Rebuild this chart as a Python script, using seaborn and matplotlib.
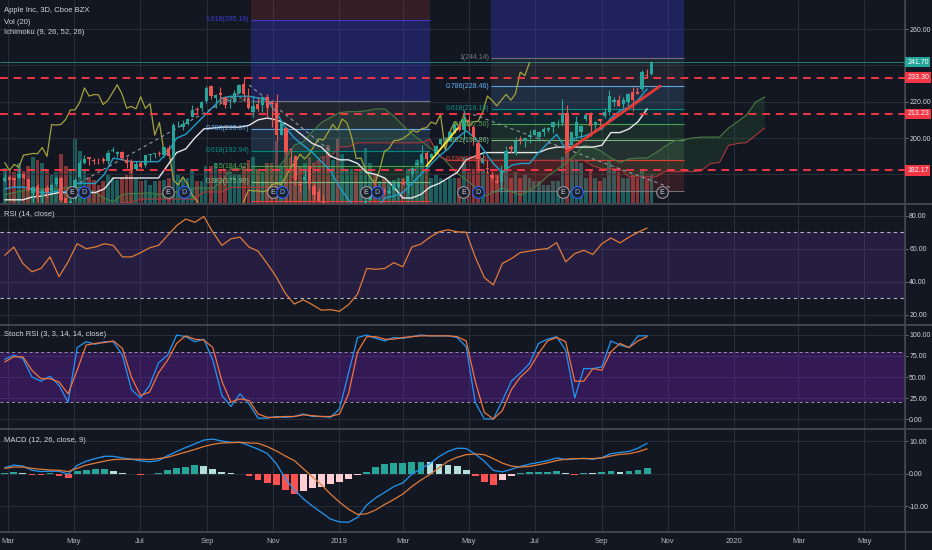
import numpy as np
import pandas as pd
import seaborn as sns
import matplotlib.pyplot as plt
import matplotlib.dates as mdates
import matplotlib.transforms as mtransforms
from matplotlib.lines import Line2D
from matplotlib.ticker import FuncFormatter

# --- 3D price bars (Apple Inc, Cboe BZX) ---
opens = [176.4, 178.5, 177.9, 177.9, 180.3, 177.3, 170.0, 173.7, 167.9, 172.6,
         171.0, 174.9, 177.8, 166.8, 164.1, 166.4, 178.3, 186.5, 189.4, 188.0,
         188.4, 188.2, 187.2, 193.1, 191.2, 192.4, 187.9, 187.3, 183.0, 186.3,
         185.3, 190.7, 191.1, 191.8, 190.7, 194.6, 190.3, 207.0, 206.0, 207.7,
         211.8, 216.0, 216.6, 220.2, 228.4, 221.9, 224.9, 222.0, 220.2, 219.8,
         224.8, 230.0, 222.2, 214.5, 218.9, 218.0, 222.6, 219.2, 219.1, 201.9,
         205.6, 193.9, 190.0, 174.9, 176.7, 184.5, 173.5, 170.4, 165.5, 160.4,
         148.3, 158.5, 144.5, 151.3, 150.9, 154.2, 154.2, 155.8, 166.1, 172.9,
         169.0, 171.4, 169.7, 171.6, 173.2, 175.7, 173.9, 180.0, 184.9, 186.2,
         191.5, 188.9, 191.1, 196.5, 198.7, 198.6, 203.1, 207.4, 204.4, 209.8,
         205.9, 197.4, 186.3, 183.5, 179.8, 176.4, 175.6, 183.1, 194.9, 191.6,
         199.7, 198.4, 200.3, 201.4, 200.8, 203.3, 204.6, 205.8, 207.7, 208.5,
         213.9, 196.3, 201.3, 203.2, 210.6, 213.2, 207.9, 210.2, 212.0, 214.3,
         220.0, 221.1, 218.9, 220.0, 225.1, 225.6, 227.0, 234.9, 235.1]
highs = [180.6, 179.8, 178.2, 183.5, 180.5, 177.5, 173.0, 175.1, 172.0, 174.2,
         175.0, 178.8, 178.8, 166.9, 166.0, 177.8, 187.7, 190.4, 189.5, 189.0,
         188.9, 189.6, 193.4, 195.3, 192.9, 192.6, 189.6, 188.5, 187.3, 187.3,
         190.7, 191.4, 191.9, 192.6, 194.9, 196.0, 208.4, 209.5, 209.8, 211.0,
         218.0, 217.2, 220.5, 228.9, 229.2, 224.3, 228.3, 222.9, 222.3, 226.4,
         230.0, 233.5, 227.3, 222.9, 222.6, 223.3, 224.2, 220.7, 224.0, 210.1,
         206.0, 194.5, 190.7, 176.6, 182.8, 184.9, 174.5, 172.6, 168.4, 162.1,
         157.2, 159.4, 151.8, 154.5, 155.9, 157.9, 158.1, 166.2, 171.7, 175.6,
         171.2, 172.5, 173.3, 175.9, 175.5, 177.9, 179.1, 184.1, 188.4, 196.3,
         192.9, 191.7, 196.4, 200.2, 200.7, 203.4, 207.8, 208.5, 215.3, 212.7,
         207.4, 198.9, 192.5, 188.0, 182.1, 179.4, 185.0, 195.4, 196.0, 200.3,
         200.9, 200.2, 204.5, 205.1, 203.7, 205.9, 206.1, 208.9, 209.7, 221.4,
         218.0, 203.5, 212.1, 207.2, 213.4, 214.4, 209.5, 210.5, 216.4, 226.4,
         222.5, 223.8, 222.5, 224.6, 228.2, 228.1, 237.6, 238.0, 242.2]
lows = [176.0, 172.7, 173.7, 177.4, 177.6, 171.0, 164.5, 164.7, 162.5, 167.6,
        170.5, 173.6, 165.5, 161.6, 161.2, 166.4, 178.0, 185.5, 185.3, 185.6,
        185.7, 186.3, 185.8, 192.1, 189.7, 187.9, 183.5, 180.7, 182.4, 183.4,
        184.3, 187.5, 189.2, 189.9, 189.6, 189.6, 189.8, 205.8, 204.5, 207.1,
        211.8, 214.0, 215.0, 219.5, 221.4, 216.5, 219.2, 216.4, 216.4, 219.4,
        224.7, 220.6, 216.0, 211.5, 214.7, 214.2, 211.7, 206.1, 198.2, 201.5,
        191.3, 184.6, 174.1, 170.3, 176.2, 171.7, 165.9, 165.2, 160.1, 146.6,
        145.0, 142.0, 143.2, 149.6, 148.6, 152.7, 151.7, 153.0, 165.9, 170.4,
        168.4, 169.3, 169.7, 171.4, 172.7, 174.0, 169.5, 178.9, 184.9, 185.9,
        184.6, 187.8, 191.1, 196.2, 198.2, 198.6, 202.6, 203.6, 198.9, 204.0,
        196.2, 182.9, 185.7, 181.0, 176.7, 175.0, 170.3, 181.6, 191.9, 190.8,
        196.9, 195.3, 197.5, 201.4, 198.1, 201.0, 203.3, 202.5, 206.2, 206.7,
        192.6, 194.2, 199.5, 199.6, 209.3, 201.0, 203.5, 205.1, 211.1, 212.5,
        217.7, 217.4, 216.7, 217.3, 215.1, 224.0, 225.9, 233.1, 234.9]
closes = [178.1, 176.8, 176.9, 180.0, 178.0, 171.3, 172.8, 167.8, 171.6, 170.1,
          174.1, 178.2, 165.7, 163.7, 165.3, 176.9, 186.1, 188.6, 188.2, 187.6,
          188.2, 187.5, 191.8, 193.5, 192.3, 188.8, 186.5, 182.2, 185.5, 183.9,
          190.6, 191.0, 191.5, 191.4, 194.8, 189.9, 207.4, 207.1, 207.5, 210.2,
          215.5, 215.5, 219.7, 227.6, 223.1, 223.9, 223.8, 218.4, 220.8, 225.0,
          229.3, 224.3, 216.4, 217.4, 216.0, 222.7, 216.3, 218.9, 201.6, 208.5,
          192.2, 193.5, 176.8, 174.2, 178.6, 174.7, 168.6, 165.5, 160.9, 146.8,
          156.2, 142.2, 150.8, 152.3, 154.9, 153.3, 157.8, 165.3, 171.3, 170.9,
          170.9, 170.4, 171.1, 174.3, 175.0, 174.5, 178.9, 183.7, 186.5, 191.1,
          188.5, 191.2, 195.7, 199.5, 198.9, 203.1, 207.5, 204.3, 210.5, 208.5,
          200.7, 188.7, 189.0, 182.8, 178.2, 175.1, 182.5, 192.6, 194.2, 198.5,
          198.8, 199.8, 201.6, 204.2, 203.2, 205.2, 205.7, 208.8, 207.7, 213.0,
          193.3, 203.4, 209.0, 206.5, 212.6, 206.5, 209.0, 209.2, 214.2, 223.1,
          220.7, 217.7, 221.0, 224.0, 220.8, 224.4, 236.2, 234.4, 241.7]
volumes = [115, 110, 100, 130, 105, 120, 150, 140, 130, 110,
           95, 100, 160, 120, 110, 210, 170, 110, 85, 75,
           60, 70, 95, 85, 75, 85, 90, 110, 80, 70,
           75, 60, 70, 70, 75, 80, 180, 95, 80, 80,
           110, 70, 70, 120, 120, 130, 110, 110, 100, 95,
           90, 120, 140, 150, 110, 100, 130, 130, 200, 120,
           170, 150, 140, 120, 130, 150, 130, 140, 150, 190,
           140, 210, 160, 110, 110, 100, 110, 180, 130, 95,
           70, 80, 70, 75, 80, 80, 110, 110, 140, 150,
           110, 80, 90, 80, 70, 80, 80, 80, 150, 100,
           110, 160, 110, 100, 80, 90, 100, 130, 80, 100,
           80, 90, 80, 70, 70, 60, 60, 70, 70, 150,
           170, 140, 140, 130, 80, 110, 80, 70, 80, 140,
           110, 100, 80, 80, 90, 80, 110, 80, 90]

# --- indicators, sampled every second bar ---
rsi = [56, 61, 51, 46, 48, 55, 43, 52, 63, 60, 61, 63, 62, 55, 55, 57.5, 60.5, 62, 68, 74,
       78, 76, 79.5, 70, 62, 66, 67, 61, 58.5, 51, 43, 33, 26.4, 29, 26, 22.7, 23, 22, 26, 32.5,
       48, 47.5, 48, 51.5, 49, 61, 62.8, 67, 70.2, 71.5, 70.2, 70, 55, 42.5, 38, 51, 54, 57.7, 58.5, 59.5,
       60, 63.7, 52, 57, 59, 56.5, 63, 66.5, 63.5, 67, 70, 72.5]
stoch_k = [71, 76, 72, 50, 45, 51, 40, 20, 85, 92, 89, 92, 92, 76, 35, 25, 40, 67, 76, 100,
           98, 92, 95, 70, 28, 15, 30, 18, 1, 1, 3, 2, 3, 6, 3, 3, 2, 12, 55, 97,
           100, 96, 93, 97, 96, 98, 100, 99, 99, 99, 97, 86, 20, 0, 0, 22, 45, 55, 66, 90,
           95, 98, 82, 25, 60, 60, 62, 93, 88, 85, 99, 99]
stoch_d = [68, 74, 74, 58, 48, 48, 44, 30, 58, 88, 90, 91, 93, 84, 50, 28, 32, 55, 70, 90,
           99, 95, 94, 85, 45, 20, 24, 22, 6, 2, 2, 3, 3, 5, 4, 3, 3, 6, 30, 80,
           98, 98, 95, 95, 97, 98, 99, 99, 99, 99, 98, 93, 45, 8, 0, 10, 35, 50, 60, 78,
           93, 97, 92, 45, 45, 60, 58, 80, 90, 85, 93, 98]
macd = [1.8, 2.6, 2.3, 1.0, 0.6, 0.7, 0.7, -0.2, 2.5, 3.8, 4.6, 5.3, 5.3, 4.8, 4.4, 3.9, 3.6, 4.0, 5.5, 6.8,
        8.0, 9.1, 10.3, 10.6, 10.0, 9.6, 9.6, 8.6, 7.5, 6.2, 3.1, -1.5, -5.0, -7.8, -10.0, -12.0, -14.0, -14.9, -15.0, -13.5,
        -9.7, -7.5, -5.8, -4.0, -2.9, -0.2, 1.5, 3.1, 5.2, 6.8, 7.8, 7.7, 6.0, 3.8, 1.0, 0.5, 1.3, 2.2, 2.9, 3.4,
        4.0, 4.8, 4.3, 4.5, 4.7, 4.4, 4.9, 6.1, 6.5, 6.8, 7.8, 9.3]
signal = [1.6, 2.0, 2.0, 1.6, 1.3, 1.1, 1.0, 0.6, 1.6, 2.6, 3.2, 3.8, 4.3, 4.4, 4.4, 4.4, 4.3, 4.6, 5.0, 5.8,
          6.6, 7.4, 8.3, 9.0, 9.4, 9.5, 9.6, 9.4, 9.3, 8.3, 7.0, 5.4, 4.0, 1.5, -1.0, -3.5, -6.3, -8.8, -11.0, -12.6,
          -12.4, -11.2, -9.5, -8.0, -6.3, -4.0, -2.0, -0.3, 1.8, 3.8, 5.0, 5.8, 6.0, 5.8, 4.6, 3.2, 2.3, 2.0, 2.2, 2.7,
          3.3, 4.0, 4.4, 4.6, 4.6, 4.6, 4.8, 5.4, 5.9, 6.1, 6.7, 7.6]
hist = [0.3, 0.5, 0.2, -0.5, -0.6, 0.1, -0.8, -1.4, 0.8, 1.2, 1.5, 1.5, 0.9, 0.3, -0.2, -0.3, -0.2, 0.1, 1.0, 1.6,
        2.0, 2.6, 2.4, 1.4, 0.4, 0.1, -0.1, -0.8, -2.0, -2.8, -3.6, -5.0, -6.3, -5.5, -4.6, -4.0, -3.2, -2.5, -1.8, -0.6,
        0.4, 2.0, 2.8, 3.2, 3.2, 3.5, 3.5, 3.4, 3.0, 2.5, 2.2, 1.0, -0.8, -2.5, -3.5, -2.0, -0.8, 0.2, 0.4, 0.5,
        0.6, 0.7, 0.1, -0.3, 0.2, 0.1, 0.4, 0.7, 0.6, 0.8, 1.2, 1.6]
conversion = [172, 173, 173, 172, 170, 170, 171, 170, 175, 175, 175, 180, 189, 188, 187, 187, 187, 187, 192, 200,
              202, 207, 212, 217, 222, 223, 223, 223, 222, 221, 214, 206, 200, 196, 192, 187, 182, 173, 166, 160,
              155, 160, 167, 168, 170, 175, 180, 185, 190, 194, 200, 204, 200, 193, 186, 181, 185, 186, 186, 192,
              197, 202, 194, 200, 201, 203, 205, 211, 215, 217, 221, 227]
base = [166, 166, 166, 167.5, 168, 169, 170, 170, 170, 170, 170, 172, 178, 178, 178, 178, 178, 178, 185, 192,
        194, 200, 205, 205.5, 206, 206, 206, 207, 210, 211, 210, 208, 205, 201, 197, 195, 190, 188, 188, 186,
        181, 180, 178, 173, 167, 167, 169, 173, 175, 178, 181, 188, 190, 192, 192, 192, 192, 192, 192, 192,
        194, 195, 195, 195, 195, 195, 196, 203, 203, 205, 209, 216]
span_a = [169, 170, 171, 172, 172, 172, 172, 173, 173, 172, 170, 167, 165,
          169, 169.5, 169.5, 169.8, 169, 169.5, 170.5, 170, 172.5, 172.5, 172.5, 176, 183.5, 183, 182.5, 182.5,
          182.5, 182.5, 188.5, 196, 198, 203.5, 208.5, 211.3, 214, 214.5, 214.5, 215, 216, 216, 212, 207,
          202.5, 198.5, 194.5, 191, 186, 180.5, 177, 173, 168, 170, 172.5, 170.5, 168.5, 171, 174.5, 179,
          182.5, 186, 190.5, 196, 195, 192.5, 189, 186.5, 188.5, 189, 189, 192, 195.5, 198.5, 199, 200,
          200.5, 200.5, 200.5, 205.5, 209, 212.7, 219.8, 222.6]
span_b = [159.3, 159.3, 159.3, 159.3, 159.3, 161.2, 161.2, 161.2, 161.2, 161.2, 161.2, 161.2, 161.2,
          164.5, 164.6, 166.4, 166.4, 166.4, 166.4, 166.4, 166.4, 166.4, 170.3, 170.3, 170.3,
          172.8, 172.8, 172.8, 172.8, 172.8, 172.8, 173.1, 179.9, 180.6, 184.1, 189.6, 189.7, 195.2, 195.2,
          197.35, 197.35, 197.35, 197.35, 197.35, 197.35, 197.35, 197.35, 199.35, 190.05,
          187.75, 187.75, 187.75, 187.75, 187.75, 187.75, 187.75, 187.75, 187.75, 187.75, 187.75, 187.75,
          187.75, 187.75, 187.75, 187.75, 184.65, 183.1, 183.1, 183.0, 178.65, 178.65, 178.65, 178.65,
          181.7, 181.5, 181.5, 181.5, 182, 186, 186.5, 196, 197, 197.5, 201.5, 205.5]

# --- drawings ---
fib_levels = ["0", "0.236", "0.382", "0.5", "0.618", "0.786", "1", "1.618", "2.618"]
fib_colors = ["#787b86", "#f44336", "#81c784", "#4caf50", "#009688", "#64b5f6", "#787b86", "#3d3dd6", "#f44336"]
fib1_prices = [148.34, 165.38, 175.90, 184.42, 192.94, 205.07, 220.54, 265.16, 337.36]
fib2_prices = [170.87, 188.16, 198.86, 207.50, 216.15, 228.46, 244.14, 289.42, 362.69]
fib1_span = ["2018-10-12", "2019-03-26"]
fib2_span = ["2019-05-22", "2019-11-16"]
red_levels = [233.30, 213.23, 182.17]
last_price = 241.70
yellow_line = (["2019-03-23", "2019-04-21"], [184.6, 205.5])
red_line = (["2019-07-30", "2019-10-25"], [192.3, 228.6])
dashed_lines = [(["2018-05-01", "2018-10-03"], [173.6, 225.4]),
                (["2018-10-10", "2018-12-23"], [229.2, 193.4]),
                (["2019-05-05", "2019-11-05"], [213.0, 172.4])]
earnings = ["2018-04-29", "2018-07-27", "2018-11-01", "2019-01-26", "2019-04-26", "2019-07-27", "2019-10-27"]
dividends = ["2018-05-10", "2018-08-11", "2018-11-09", "2019-02-05", "2019-05-10", "2019-08-09"]

BG = "#131722"
GRID = "#2a2e39"
TXT = "#d1d4dc"
UP, DOWN = "#26a69a", "#ef5350"
W, H = 932, 550
FS = 5.0

sns.set_theme(style="dark", rc={"axes.facecolor": BG, "figure.facecolor": BG})
plt.rcParams["font.family"] = ["Liberation Sans Narrow", "Liberation Sans", "DejaVu Sans"]

bar_dates = pd.date_range("2018-02-26", "2019-10-17", periods=len(closes))
bx = mdates.date2num(bar_dates)
ind_start = pd.Timestamp("2018-02-26")
ind_step = (pd.Timestamp("2019-10-13") - ind_start) / (len(rsi) - 1)
span_dates = pd.DatetimeIndex([ind_start + ind_step * k for k in range(len(span_a))])
sx = mdates.date2num(span_dates)
ix = sx[:len(rsi)]
xlim = mdates.date2num(pd.to_datetime(["2018-02-21 14:00", "2020-06-07 12:00"]))


def month_label(v, pos):
    d = mdates.num2date(v)
    return str(d.year) if d.month == 1 else d.strftime("%b")


def panel(top, bottom):
    return fig.add_axes([0, 1 - bottom / H, 905 / W, (bottom - top) / H])


def style(ax, ylim, yticks, hide=()):
    ax.set_xlim(xlim)
    ax.set_ylim(ylim)
    ax.xaxis.set_major_locator(mdates.MonthLocator(bymonth=[1, 3, 5, 7, 9, 11]))
    ax.xaxis.set_major_formatter(FuncFormatter(month_label))
    ax.yaxis.tick_right()
    ax.set_yticks(yticks)
    ax.yaxis.set_major_formatter(FuncFormatter(lambda v, p: "" if v in hide else f"{v:.2f}"))
    ax.tick_params(axis="y", length=2, width=0.6, color="#787b86", pad=1,
                   labelsize=FS, labelcolor=TXT, right=True, left=False)
    ax.tick_params(axis="x", length=0, labelbottom=False)
    ax.grid(True, color=GRID, lw=0.7)
    for name, s in ax.spines.items():
        s.set_visible(name == "right")
    ax.spines["right"].set_color("#434651")
    ax.set_xlabel("")
    ax.set_ylabel("")


fig = plt.figure(figsize=(W / 100, H / 100), dpi=100)

# ---------------- main price panel ----------------
vol_ax = panel(0, 203)
vol_ax.set_zorder(1)
vol_ax.set_xlim(xlim)
vol_ax.set_ylim(0, 660)
vol_ax.axis("off")
up = np.array(closes) >= np.array(opens)
vcol = [UP if u else DOWN for u in up]
vol_ax.bar(bx, volumes, width=3.4, color=vcol, alpha=0.5, lw=0)

ax = panel(0, 203)
ax.set_zorder(2)
ax.set_facecolor("none")
style(ax, (164.24, 275.96), [180, 200, 220, 240, 260], hide=(180, 240))


def draw_fib(ax, span, prices):
    x0, x1 = mdates.date2num(pd.to_datetime(span))
    for i in range(1, len(prices)):
        a = 0.32 if fib_colors[i] == "#3d3dd6" else 0.15
        ax.fill_between([x0, x1], prices[i - 1], prices[i], color=fib_colors[i], alpha=a, lw=0, zorder=1)
    for lvl, p, c in zip(fib_levels, prices, fib_colors):
        ax.hlines(p, x0, x1, color=c, lw=0.8, alpha=0.9, zorder=1.5)
        if lvl == "0" or p < 170:
            continue
        ax.annotate(f"{lvl}({p:.2f})", xy=(x0, p), xytext=(-1.5, 0), textcoords="offset points",
                    ha="right", va="center", fontsize=FS, color=c, zorder=5)


draw_fib(ax, fib1_span, fib1_prices)
draw_fib(ax, fib2_span, fib2_prices)

# ichimoku cloud
sa, sb = np.array(span_a), np.array(span_b)
ax.fill_between(sx, sa, sb, where=sa >= sb, interpolate=True, color="#4caf50", alpha=0.13, lw=0, zorder=1.2)
ax.fill_between(sx, sa, sb, where=sa < sb, interpolate=True, color="#f44336", alpha=0.13, lw=0, zorder=1.2)
sns.lineplot(x=sx, y=span_a, ax=ax, color="#4a7d43", linewidth=0.8, zorder=1.6)
sns.lineplot(x=sx, y=span_b, ax=ax, color="#a8383c", linewidth=0.8, zorder=1.6)
sns.lineplot(x=bx[:-26], y=closes[26:], ax=ax, color="#a4a23c", linewidth=0.9, zorder=2)
sns.lineplot(x=ix, y=base, ax=ax, color="#e6e6e6", linewidth=1.0, zorder=2.2)
sns.lineplot(x=ix, y=conversion, ax=ax, color="#1e9fca", linewidth=1.0, zorder=2.3)

# horizontal levels
for p in red_levels:
    ax.axhline(p, color="#f23645", lw=1.4, ls=(0, (4, 3)), zorder=3)
ax.axhline(last_price, color="#26a69a", lw=0.7, alpha=0.7, zorder=3)

# trend lines
for d, p in dashed_lines:
    ax.plot(mdates.date2num(pd.to_datetime(d)), p, color="#9598a1", lw=0.8, ls=(0, (3, 3)), zorder=3)
ax.plot(mdates.date2num(pd.to_datetime(yellow_line[0])), yellow_line[1], color="#ffeb3b", lw=1.3, zorder=4.5)
ax.plot(mdates.date2num(pd.to_datetime(red_line[0])), red_line[1], color="#e53935", lw=2.0, zorder=4.5)

# candles
ccol = [UP if u else DOWN for u in up]
ax.vlines(bx, lows, highs, colors=ccol, lw=0.8, zorder=4)
body_lo = np.minimum(opens, closes)
body_h = np.maximum(np.abs(np.array(closes) - np.array(opens)), 0.25)
ax.bar(bx, body_h, bottom=body_lo, width=3.1, color=ccol, lw=0, zorder=4)
ax.set_xlim(xlim)
ax.set_ylim(164.24, 275.96)

# earnings / dividends markers
trans = mtransforms.blended_transform_factory(ax.transData, ax.transAxes)
ex = mdates.date2num(pd.to_datetime(earnings))
dx = mdates.date2num(pd.to_datetime(dividends))
ax.scatter(ex, [0.054] * len(ex), s=70, transform=trans, facecolor="#1e222d", edgecolor="#b0a0a8", lw=0.7, zorder=6)
ax.scatter(dx, [0.054] * len(dx), s=70, transform=trans, facecolor="#1e222d", edgecolor="#2962ff", lw=0.8, zorder=6)
for x in ex:
    ax.text(x, 0.054, "E", transform=trans, ha="center", va="center", fontsize=FS, color=TXT, zorder=7)
for x in dx:
    ax.text(x, 0.054, "D", transform=trans, ha="center", va="center", fontsize=FS, color="#90bff9", zorder=7)

# price labels on the scale
for p, c in [(last_price, "#26a69a")] + [(p, "#f23645") for p in red_levels]:
    ax.annotate(f"{p:.2f}", xy=(1.0, p), xycoords=("axes fraction", "data"), xytext=(1.6, 0),
                textcoords="offset points", ha="left", va="center", fontsize=FS, color="white",
                bbox=dict(boxstyle="square,pad=0.25", fc=c, ec="none"), annotation_clip=False, zorder=10)

# ---------------- RSI ----------------
ax_r = panel(205, 324)
style(ax_r, (14.3, 86.5), [20, 40, 60, 80])
ax_r.axhspan(30, 70, color="#7b3fd0", alpha=0.18, lw=0)
for lv in (30, 70):
    ax_r.axhline(lv, color="#b2b5be", lw=0.8, ls=(0, (3, 3)))
sns.lineplot(x=ix, y=rsi, ax=ax_r, color="#e07b39", linewidth=0.9)
ax_r.set_xlim(xlim)
ax_r.set_ylim(14.3, 86.5)

# ---------------- Stoch RSI ----------------
ax_s = panel(326, 428)
style(ax_s, (-10.7, 110.7), [0, 25, 50, 75, 100])
ax_s.axhspan(20, 80, color="#7e22ce", alpha=0.3, lw=0)
for lv in (20, 80):
    ax_s.axhline(lv, color="#9598a1", lw=0.7, ls=(0, (3, 3)))
sns.lineplot(x=ix, y=stoch_k, ax=ax_s, color="#2196f3", linewidth=0.9)
sns.lineplot(x=ix, y=stoch_d, ax=ax_s, color="#f0743a", linewidth=0.9)
ax_s.set_xlim(xlim)
ax_s.set_ylim(-10.7, 110.7)

# ---------------- MACD ----------------
ax_m = panel(430, 532)
style(ax_m, (-18.0, 13.4), [-10, 0, 10])
hcol = []
for i, h in enumerate(hist):
    prev = hist[i - 1] if i else h
    if h >= 0:
        hcol.append("#26a69a" if h >= prev else "#b2dfdb")
    else:
        hcol.append("#ff5252" if h <= prev else "#ffcdd2")
ax_m.bar(ix, hist, width=6.3, color=hcol, lw=0, zorder=2)
sns.lineplot(x=ix, y=macd, ax=ax_m, color="#2196f3", linewidth=0.9)
sns.lineplot(x=ix, y=signal, ax=ax_m, color="#e07b39", linewidth=0.9)
ax_m.set_xlim(xlim)
ax_m.set_ylim(-18.0, 13.4)
ax_m.tick_params(axis="x", labelbottom=True, labelsize=5.5, labelcolor="#b2b5be", pad=4)

# panel separators and captions
for ypx in (204, 325, 429, 532):
    fig.add_artist(Line2D([0, 1], [1 - ypx / H] * 2, color="#434651", lw=1.4))
fig.add_artist(Line2D([905 / W] * 2, [0, 1], color="#434651", lw=0.8))
for ypx, t in [(11, "Apple Inc, 3D, Cboe BZX"), (22, "Vol (20)"), (33, "Ichimoku (9, 26, 52, 26)"),
               (215, "RSI (14, close)"), (335, "Stoch RSI (3, 3, 14, 14, close)"),
               (440, "MACD (12, 26, close, 9)")]:
    fig.text(4 / W, 1 - ypx / H, t, ha="left", va="center", fontsize=5.5, color=TXT)

fig.savefig("out.png", dpi=100, facecolor=BG)
